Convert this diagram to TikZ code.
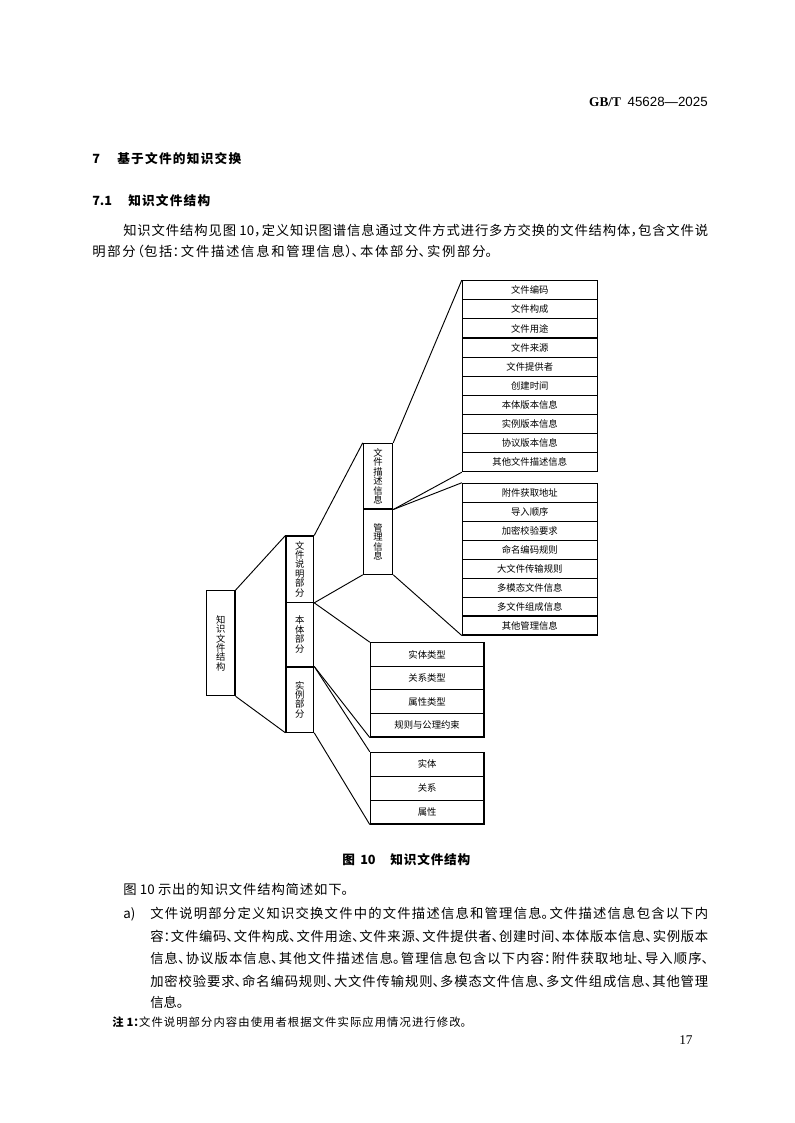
\documentclass[tikz,border=0pt]{standalone}
\usepackage{fontspec}
\setmainfont{Noto Sans CJK SC}[RawFeature=+halt]
\newfontfamily\lserif{Liberation Serif}
\newfontfamily\lsans{Liberation Sans}
\XeTeXlinebreaklocale "zh"
\XeTeXlinebreakskip=0pt plus 3pt
\hbadness=10000
\newdimen\pxu \pxu=0.75pt
\newcommand{\jl}[2]{\parbox[t]{#1}{\parindent=0pt\leftskip=0pt\rightskip=0pt\tolerance=9999\parfillskip=0pt #2\par}}
\begin{document}
\begin{tikzpicture}[x=0.75pt,y=-0.75pt,
  box/.style={draw, line width=0.8pt, inner sep=0pt, font=\fontsize{7pt}{7.1pt}\selectfont, align=center},
  conn/.style={line width=0.7pt},
  txt/.style={inner sep=0pt, anchor=base west, font=\fontsize{10pt}{12pt}\selectfont},
  head/.style={inner sep=0pt, anchor=base west, font=\fontsize{9.5pt}{11pt}\selectfont\bfseries}]
\fill[white] (0,0) rectangle (794,1123);
\useasboundingbox (0,0) rectangle (794,1123);

% header
\node[inner sep=0pt, anchor=base east, font=\fontsize{10pt}{12pt}\selectfont] (hdr) at (708,107) {{\lserif\bfseries GB/T}\hspace{5pt}{\lsans 45628—2025}};

% headings
\node[head] (h7n) at (92,164) {7};
\node[head] (h7) at (117,164) {\jl{124\pxu}{基于文件的知识交换}};
\node[head] (h71n) at (92,205) {7.1};
\node[head] (h71) at (128,205) {\jl{82\pxu}{知识文件结构}};

% paragraph 1
\node[txt] (p1a) at (123,235) {\jl{585\pxu}{知识文件结构见图 10，定义知识图谱信息通过文件方式进行多方交换的文件结构体，包含文件说}};
\node[txt] (p1b) at (92,257) {\jl{400\pxu}{明部分（包括：文件描述信息和管理信息）、本体部分、实例部分。}};

% diagram boxes
\node[box, minimum width=28.3\pxu, minimum height=105\pxu] (k) at (220.85,643.2) {知\\识\\文\\件\\结\\构};
\node[box, minimum width=27.7\pxu, minimum height=66.3\pxu] (s1) at (299.85,569.15) {文\\件\\说\\明\\部\\分};
\node[box, minimum width=27.7\pxu, minimum height=64.7\pxu] (s2) at (299.85,634.65) {本\\体\\部\\分};
\node[box, minimum width=27.7\pxu, minimum height=65.3\pxu] (s3) at (299.85,699.65) {实\\例\\部\\分};
\node[box, minimum width=29.4\pxu, minimum height=65.7\pxu] (d1) at (378,476.15) {文\\件\\描\\述\\信\\息};
\node[box, minimum width=29.4\pxu, minimum height=65.3\pxu] (d2) at (378,541.65) {管\\理\\信\\息};

\foreach \t [count=\i] in {文件编码,文件构成,文件用途,文件来源,文件提供者,创建时间,本体版本信息,实例版本信息,协议版本信息,其他文件描述信息}
  \node[box, minimum width=135\pxu, minimum height=19.1\pxu] (a\i) at (529.8,{280.7+19.1*(\i-0.5)}) {\t};
\foreach \t [count=\i] in {附件获取地址,导入顺序,加密校验要求,命名编码规则,大文件传输规则,多模态文件信息,多文件组成信息,其他管理信息}
  \node[box, minimum width=135\pxu, minimum height=18.96\pxu] (b\i) at (529.8,{483.3+18.96*(\i-0.5)}) {\t};
\foreach \t [count=\i] in {实体类型,关系类型,属性类型,规则与公理约束}
  \node[box, minimum width=113.7\pxu, minimum height=23.575\pxu] (c\i) at (427.15,{642.7+23.575*(\i-0.5)}) {\t};
\foreach \t [count=\i] in {实体,关系,属性}
  \node[box, minimum width=113.7\pxu, minimum height=23.9\pxu] (e\i) at (427.15,{752.3+23.9*(\i-0.5)}) {\t};

% connectors
\draw[conn] (k.north east) -- (s1.north west);
\draw[conn] (k.south east) -- (s3.south west);
\draw[conn] (s1.north east) -- (d1.north west);
\draw[conn] (s1.south east) -- (d2.south west);
\draw[conn] (s1.south east) -- (c1.north west);
\draw[conn] (d1.north east) -- (a1.north west);
\draw[conn] (d1.south east) -- (a10.south west);
\draw[conn] (d1.south east) -- (b1.north west);
\draw[conn] (d2.south east) -- (b8.south west);
\draw[conn] (s3.north east) -- (c4.south west);
\draw[conn] (s3.north east) -- (e1.north west);
\draw[conn] (s3.south east) -- (e3.south west);

% caption
\node[head] (cap) at (342,864) {图\hspace{4pt}10\hspace{11pt}\jl{80\pxu}{知识文件结构}};

% following text
\node[txt] (p2) at (123,894) {\jl{225\pxu}{图 10 示出的知识文件结构简述如下。}};
\node[txt] (ia) at (123,918) {a)};
\node[txt] (a1l) at (150,918) {\jl{558\pxu}{文件说明部分定义知识交换文件中的文件描述信息和管理信息。文件描述信息包含以下内}};
\node[txt] (a2l) at (150,941) {\jl{558\pxu}{容：文件编码、文件构成、文件用途、文件来源、文件提供者、创建时间、本体版本信息、实例版本}};
\node[txt] (a3l) at (150,963) {\jl{558\pxu}{信息、协议版本信息、其他文件描述信息。管理信息包含以下内容：附件获取地址、导入顺序、}};
\node[txt] (a4l) at (150,986) {\jl{558\pxu}{加密校验要求、命名编码规则、大文件传输规则、多模态文件信息、多文件组成信息、其他管理}};
\node[txt] (a5l) at (150,1007) {信息。};
\node[txt, font=\fontsize{8.5pt}{10pt}\selectfont] (note) at (112,1026) {\jl{354\pxu}{{\bfseries 注 1：}文件说明部分内容由使用者根据文件实际应用情况进行修改。}};
\node[txt] (pg) at (679,1044) {\lserif 17};
\end{tikzpicture}
\end{document}
